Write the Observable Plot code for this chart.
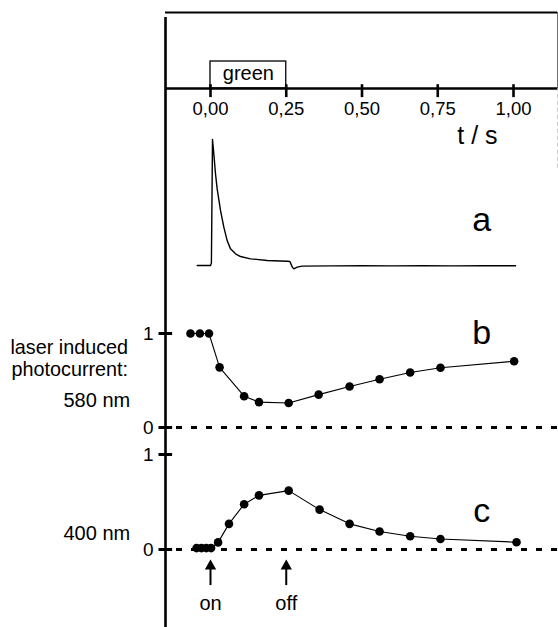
<!DOCTYPE html>
<html>
<head>
<meta charset="utf-8">
<script src="https://cdn.jsdelivr.net/npm/d3@7"></script>
<script src="https://cdn.jsdelivr.net/npm/@observablehq/plot@0.6"></script>
<style>
  html, body { margin: 0; padding: 0; background: white; }
  #chart { position: relative; width: 558px; height: 627px; overflow: hidden; background: white; }
  #chart svg { position: absolute; left: 0; top: 0; }
</style>
</head>
<body>
<div id="chart"></div>
<script>
// ---- data ----
const tickT = [0, 0.25, 0.5, 0.75, 1.0];
const tickLabels = ["0,00", "0,25", "0,50", "0,75", "1,00"];
const lightOn = [0, 0.25];          // green light interval (s)
const lightLabel = "green";
const axisLabel = "t / s";

// panel a: photocurrent trace (normalised, baseline 0, peak 1)
const traceT = [-0.044, -0.02, 0.0, 0.003, 0.0066, 0.011, 0.0165, 0.022, 0.033, 0.044, 0.055, 0.066, 0.0825, 0.099, 0.132, 0.187, 0.253, 0.262, 0.27, 0.275, 0.286, 0.302, 0.4, 0.5, 0.6, 0.7, 0.8, 0.9, 1.007];
const traceV = [0, 0, 0, 0.02, 1.0, 0.886, 0.728, 0.608, 0.437, 0.304, 0.198, 0.132, 0.093, 0.071, 0.053, 0.040, 0.034, 0.032, -0.013, -0.026, -0.013, -0.005, -0.003, -0.002, -0.003, -0.002, -0.003, -0.002, -0.002];

// panel b: 580 nm laser induced photocurrent
const bT = [-0.066, -0.035, -0.005, 0.030, 0.111, 0.160, 0.258, 0.357, 0.459, 0.558, 0.659, 0.759, 1.002];
const bV = [1, 1, 1, 0.64, 0.333, 0.27, 0.26, 0.35, 0.436, 0.514, 0.585, 0.635, 0.705];

// panel c: 400 nm laser induced photocurrent
const cT = [-0.046, -0.030, -0.014, 0.002, 0.025, 0.061, 0.111, 0.160, 0.258, 0.360, 0.459, 0.558, 0.659, 0.759, 1.01];
const cV = [0.015, 0.015, 0.015, 0.015, 0.075, 0.27, 0.477, 0.57, 0.62, 0.42, 0.27, 0.19, 0.14, 0.11, 0.077];

const yTicks = [0, 1];
const sideLabels = ["laser induced", "photocurrent:", "580 nm", "400 nm"];
const events = [{t: 0, label: "on"}, {t: 0.25, label: "off"}];
const tLeft = -0.1485, tRight = 1.146;

// ---- drawing ----
const FONT = "'Liberation Sans', Arial, Helvetica, sans-serif";
const W = 558, H = 627;
const xScale = {domain: [0, 1], range: [210, 513]};
function panel(yRange, marks) {
  return Plot.plot({
    width: W, height: H, margin: 0,
    x: {...xScale, axis: null},
    y: {domain: [0, 1], range: yRange, axis: null},
    style: {background: "transparent", fontFamily: FONT, overflow: "visible", color: "black"},
    marks
  });
}
const chart = document.getElementById("chart");
const traceData = traceT.map((t, i) => ({t, v: traceV[i]}));
const bData = bT.map((t, i) => ({t, v: bV[i]}));
const cData = cT.map((t, i) => ({t, v: cV[i]}));

// top panel: box frame with time axis (1 = top border, 0 = time axis)
chart.append(panel([88, 12], [
  Plot.ruleY([1], {x1: tLeft, x2: tRight, stroke: "black", strokeWidth: 2}),
  Plot.ruleX([tRight], {y1: 0, y2: 1, stroke: "#555", strokeWidth: 1.2}),
  Plot.ruleX([tRight], {y1: -1.05, y2: 0, stroke: "#bbb", strokeWidth: 1, strokeDasharray: "4,3"}),
  Plot.rect([lightOn], {x1: d => d[0], x2: d => d[1], y1: 0, y2: 0.355, fill: "white", stroke: "black", strokeWidth: 1.3}),
  Plot.text([lightLabel], {x: (lightOn[0] + lightOn[1]) / 2, y: 0.19, text: d => d, fontSize: 20}),
  Plot.ruleY([0], {x1: tLeft, x2: tRight, stroke: "black", strokeWidth: 2.6}),
  Plot.ruleX(tickT, {y1: -0.12, y2: 0.05, stroke: "black", strokeWidth: 2.6}),
  Plot.text(tickT, {x: d => d, y: -0.27, text: (d, i) => tickLabels[i], fontSize: 18.5}),
  Plot.text([axisLabel], {x: 0.881, y: -0.62, text: d => d, fontSize: 25})
]));

// panel a: trace
chart.append(panel([265, 139], [
  Plot.line(traceData, {x: "t", y: "v", stroke: "black", strokeWidth: 1.4}),
  Plot.text(["a"], {x: 0.895, y: 0.357, text: d => d, fontSize: 34})
]));

// panel b: 580 nm
chart.append(panel([427, 333], [
  Plot.ruleY([0], {x1: tLeft, x2: tRight, stroke: "black", strokeWidth: 3.2, strokeDasharray: "6,9", strokeDashoffset: -11}),
  Plot.line(bData, {x: "t", y: "v", stroke: "black", strokeWidth: 1.1}),
  Plot.dot(bData, {x: "t", y: "v", r: 4.3, fill: "black"}),
  Plot.ruleY(yTicks, {x1: -0.17, x2: -0.125, stroke: "black", strokeWidth: 3}),
  Plot.text(yTicks, {x: -0.188, y: d => d, text: d => String(d), textAnchor: "end", fontSize: 19}),
  Plot.text(["b"], {x: 0.895, y: 1.0, text: d => d, fontSize: 34}),
  Plot.text([sideLabels[0], sideLabels[1]], {x: -0.272, y: [0.85, 0.617], text: d => d, textAnchor: "end", fontSize: 19.8}),
  Plot.text([sideLabels[2]], {x: -0.265, y: 0.287, text: d => d, textAnchor: "end", fontSize: 20})
]));

// panel c: 400 nm, with on/off arrows and the full vertical axis
chart.append(panel([549, 454], [
  Plot.ruleY([0], {x1: tLeft, x2: tRight, stroke: "black", strokeWidth: 3.2, strokeDasharray: "6,9", strokeDashoffset: -11}),
  Plot.line(cData, {x: "t", y: "v", stroke: "black", strokeWidth: 1.1}),
  Plot.dot(cData, {x: "t", y: "v", r: 4.3, fill: "black"}),
  Plot.ruleY(yTicks, {x1: -0.17, x2: -0.125, stroke: "black", strokeWidth: 3}),
  Plot.text(yTicks, {x: -0.188, y: d => d, text: d => String(d), textAnchor: "end", fontSize: 19}),
  Plot.text(["c"], {x: 0.895, y: 0.4, text: d => d, fontSize: 34}),
  Plot.text([sideLabels[3]], {x: -0.265, y: 0.168, text: d => d, textAnchor: "end", fontSize: 20}),
  Plot.ruleX(events, {x: "t", y1: -0.38, y2: -0.2, stroke: "black", strokeWidth: 2}),
  Plot.dot(events, {x: "t", y: -0.175, symbol: "triangle", r: 4.2, fill: "black", stroke: "none"}),
  Plot.text(events, {x: "t", y: -0.57, text: "label", fontSize: 20}),
  // left vertical axis running the full height (from the top frame to the bottom)
  Plot.ruleX([tLeft], {y1: -0.82, y2: 5.6, stroke: "black", strokeWidth: 2.6})
]));
</script>
</body>
</html>
